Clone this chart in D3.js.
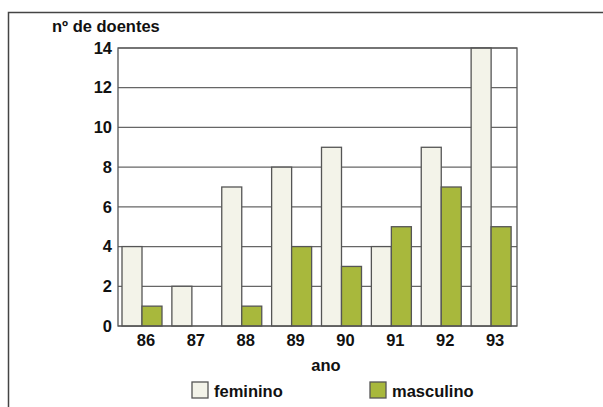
<!DOCTYPE html>
<html><head><meta charset="utf-8">
<script src="https://cdnjs.cloudflare.com/ajax/libs/d3/7.8.5/d3.min.js"></script>
<style>body{margin:0;background:#fff}svg{display:block}text{font-family:"Liberation Sans",Arial,sans-serif;font-weight:bold;fill:#111}</style>
</head><body><svg id="c" width="603" height="407"></svg>
<script>
const anos = ["86","87","88","89","90","91","92","93"];
const feminino = [4,2,7,8,9,4,9,14];
const masculino = [1,0,1,4,3,5,7,5];
const yTicks = [0,2,4,6,8,10,12,14];
const seriesNames = ["feminino","masculino"];
const colors = {feminino:"#f3f3e9", masculino:"#a8b83c"};

const svg = d3.select("#c");
const m = {l:118, r:517, t:48, b:326};
const x = d3.scaleBand().domain(anos).range([m.l, m.r]).paddingInner(0).paddingOuter(0);
const y = d3.scaleLinear().domain([0,14]).range([m.b, m.t]);
const barW = 20, off = 4;
const FS = 16.5;

// frame
svg.append("path").attr("d","M8.5,407 L8.5,12.5 L603,12.5").attr("fill","none").attr("stroke","#444").attr("stroke-width",1.5);

// grid
svg.append("g").selectAll("line").data(yTicks).join("line")
  .attr("x1",m.l).attr("x2",m.r).attr("y1",d=>y(d)).attr("y2",d=>y(d))
  .attr("stroke","#666").attr("stroke-width",1.2);

// bars
const g = svg.append("g");
anos.forEach((a,i)=>{
  [feminino[i], masculino[i]].forEach((v,j)=>{
    if (v<=0) return;
    g.append("rect").attr("x", x(a)+off+j*barW).attr("width",barW)
      .attr("y", y(v)).attr("height", y(0)-y(v))
      .attr("fill", colors[seriesNames[j]]).attr("stroke","#555").attr("stroke-width",1.3);
  });
});

// plot border
svg.append("rect").attr("x",m.l).attr("y",m.t).attr("width",m.r-m.l).attr("height",m.b-m.t)
  .attr("fill","none").attr("stroke","#555").attr("stroke-width",1.3);

// y axis
const ya = svg.append("g").attr("transform",`translate(${m.l},0)`)
  .call(d3.axisLeft(y).tickValues(yTicks).tickSize(0).tickPadding(6));
ya.select(".domain").remove();
ya.selectAll("text").attr("font-size",FS).attr("font-family","Liberation Sans, Arial, sans-serif").attr("font-weight","bold").attr("fill","#111");

// x axis
const xa = svg.append("g").attr("transform",`translate(3,${m.b})`)
  .call(d3.axisBottom(x).tickSize(0).tickPadding(8));
xa.select(".domain").remove();
xa.selectAll("text").attr("font-size",FS).attr("font-family","Liberation Sans, Arial, sans-serif").attr("font-weight","bold").attr("fill","#111");

svg.append("text").attr("x",52).attr("y",32).attr("font-size",FS).text("nº de doentes");
svg.append("text").attr("x",326).attr("y",371).attr("text-anchor","middle").attr("font-size",FS).text("ano");

// legend
const leg = [{n:"feminino", bx:192, tx:214},{n:"masculino", bx:370, tx:392}];
leg.forEach(l=>{
  svg.append("rect").attr("x",l.bx).attr("y",382).attr("width",16).attr("height",16)
    .attr("fill",colors[l.n]).attr("stroke","#555").attr("stroke-width",1.3);
  svg.append("text").attr("x",l.tx).attr("y",397).attr("font-size",FS).text(l.n);
});
</script></body></html>
